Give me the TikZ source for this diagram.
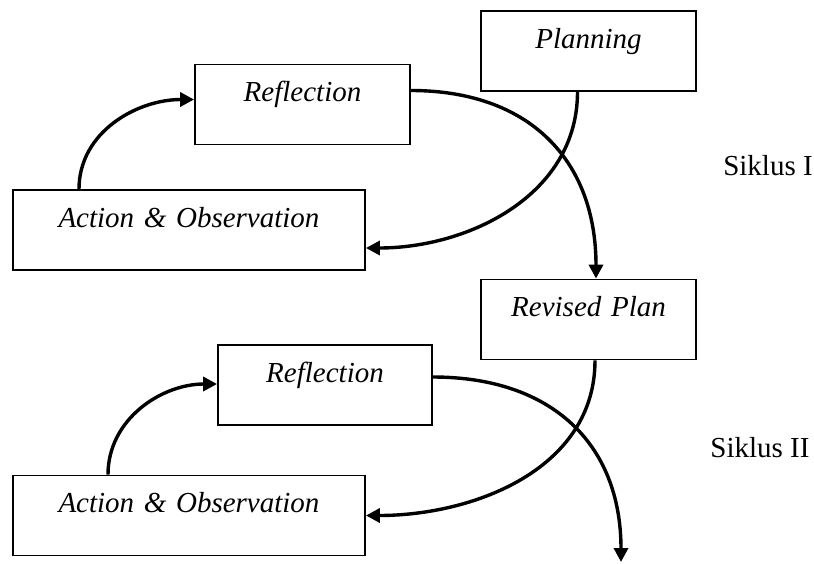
\documentclass[tikz,border=0pt]{standalone}
\usepackage{fontspec}
\setmainfont{Liberation Serif}
\usetikzlibrary{arrows.meta}
\begin{document}
\begin{tikzpicture}[x=1pt,y=1pt,
  box/.style={draw, line width=1.8pt, inner sep=0pt, text height=37pt, text depth=43pt, align=center, font=\fontsize{29}{34}\selectfont\itshape},
  arr/.style={line width=3.4pt, -{Triangle[length=14pt,width=14pt]}},
  lbl/.style={inner sep=0pt, font=\fontsize{29}{34}\selectfont}]
\useasboundingbox (0,0) rectangle (814,-563);
\node[box, text width=215pt] (plan) at (588.5,-51) {Planning};
\node[box, text width=215pt] (r1) at (302.5,-104.5) {Reflection};
\node[box, text width=352pt] (a1) at (189,-230) {Action \& Observation};
\node[lbl] (s1) at (768,-166) {Siklus I};
\node[box, text width=215pt] (rev) at (588.5,-319.5) {Revised Plan};
\node[box, text width=214pt] (r2) at (325,-385) {Reflection};
\node[box, text width=352pt] (a2) at (189,-515.5) {Action \& Observation};
\node[lbl] (s2) at (760,-448) {Siklus II};
\coordinate (e2) at (621,-562);
% cycle I
\draw[arr] ([xshift=-110pt]a1.north) to[out=90,in=180] ([yshift=5pt]r1.west);
\draw[arr] ([yshift=14pt]r1.east) to[out=0,in=90,looseness=1.15] ([xshift=7.5pt]rev.north);
\draw[arr] ([xshift=-11pt]plan.south) to[out=270,in=0] ([yshift=-18pt]a1.east);
% cycle II
\draw[arr] ([xshift=-81pt]a2.north) to[out=90,in=180] ([yshift=1pt]r2.west);
\draw[arr] ([yshift=8pt]r2.east) to[out=0,in=90,looseness=1.15] (e2);
\draw[arr] ([xshift=6.5pt]rev.south) to[out=270,in=0] (a2.east);
\end{tikzpicture}
\end{document}
